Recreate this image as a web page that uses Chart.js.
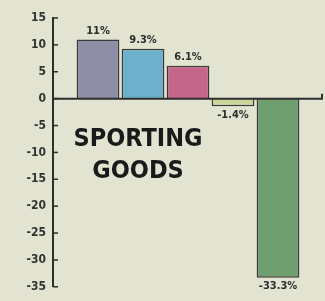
<!DOCTYPE html>
<html>
<head>
<meta charset="utf-8">
<script src="https://cdn.jsdelivr.net/npm/chart.js@4.4.0/dist/chart.umd.min.js"></script>
<style>
  html, body { margin: 0; padding: 0; background: #e3e3d2; }
  #wrap { width: 325px; height: 301px; position: relative; }
</style>
</head>
<body>
<div id="wrap"><canvas id="chart" width="325" height="301"></canvas></div>
<script>
// chart data
const categories = ['Group A', 'Group B', 'Group C', 'Group D', 'Group E'];
const values = [11, 9.3, 6.1, -1.4, -33.3];
const valueLabels = ['11%', '9.3%', '6.1%', '-1.4%', '-33.3%'];
const barColors = ['#8e8ea6', '#6eafcb', '#c4668a', '#c9d69a', '#6f9f6f'];
const yTicks = [15, 10, 5, 0, -5, -10, -15, -20, -25, -30, -35];
const titleLines = ['SPORTING', 'GOODS'];

// empty slot at each end so the bars sit inside the axis box
const paddedLabels = [''].concat(categories, ['']);
const paddedValues = [null].concat(values, [null]);
const paddedColors = ['#000'].concat(barColors, ['#000']);

const ink = '#2e2e2e';
const condensed = '"DejaVu Sans Condensed", "Liberation Sans Narrow", sans-serif';

// draws inward ticks, zero line, value labels and the caption
const decorations = {
    id: 'decorations',
    afterDatasetsDraw(chart) {
        const ctx = chart.ctx;
        const y = chart.scales.y;
        const area = chart.chartArea;
        ctx.save();
        ctx.strokeStyle = ink;

        // short ticks pointing into the plot
        ctx.lineWidth = 1.5;
        yTicks.forEach(v => {
            const py = y.getPixelForValue(v);
            ctx.beginPath();
            ctx.moveTo(area.left, py);
            ctx.lineTo(area.left + 5, py);
            ctx.stroke();
        });

        // zero baseline with a small upturn at the right end
        const zy = y.getPixelForValue(0);
        ctx.lineWidth = 2;
        ctx.beginPath();
        ctx.moveTo(area.left, zy);
        ctx.lineTo(area.right - 1, zy);
        ctx.lineTo(area.right - 1, zy - 5);
        ctx.stroke();

        // value labels
        const meta = chart.getDatasetMeta(0);
        ctx.fillStyle = ink;
        ctx.font = 'bold 11px ' + condensed;
        ctx.textAlign = 'center';
        values.forEach((v, i) => {
            const bar = meta.data[i + 1];
            if (v >= 0) {
                ctx.textBaseline = 'bottom';
                ctx.fillText(valueLabels[i], bar.x, bar.y - 3);
            } else {
                ctx.textBaseline = 'top';
                ctx.fillText(valueLabels[i], bar.x, bar.y + 3);
            }
        });

        // caption inside the plot
        ctx.font = 'bold 25px ' + condensed;
        ctx.fillStyle = '#1a1a1a';
        ctx.textBaseline = 'middle';
        ctx.fillText(titleLines[0], 138, 139);
        ctx.fillText(titleLines[1], 138, 171);
        ctx.restore();
    }
};

const chart = new Chart(document.getElementById('chart'), {
    type: 'bar',
    data: {
        labels: paddedLabels,
        datasets: [{
            data: paddedValues,
            backgroundColor: paddedColors,
            borderColor: '#3a3a3a',
            borderWidth: 1.5,
            categoryPercentage: 1,
            barPercentage: 0.95
        }]
    },
    options: {
        responsive: false,
        animation: false,
        layout: { padding: { top: 18, bottom: 14, left: 0, right: 2 } },
        plugins: {
            legend: { display: false },
            tooltip: { enabled: false }
        },
        scales: {
            x: {
                display: false,
                offset: false
            },
            y: {
                min: -35,
                max: 15,
                afterFit(scale) { scale.width = 53; },
                afterBuildTicks(scale) { scale.ticks = yTicks.map(v => ({ value: v })); },
                grid: { display: false, drawTicks: false },
                border: { display: true, color: ink, width: 2 },
                ticks: {
                    padding: 7,
                    color: '#333',
                    font: { family: condensed, size: 12, weight: 'bold' }
                }
            }
        }
    },
    plugins: [decorations]
});
</script>
</body>
</html>
